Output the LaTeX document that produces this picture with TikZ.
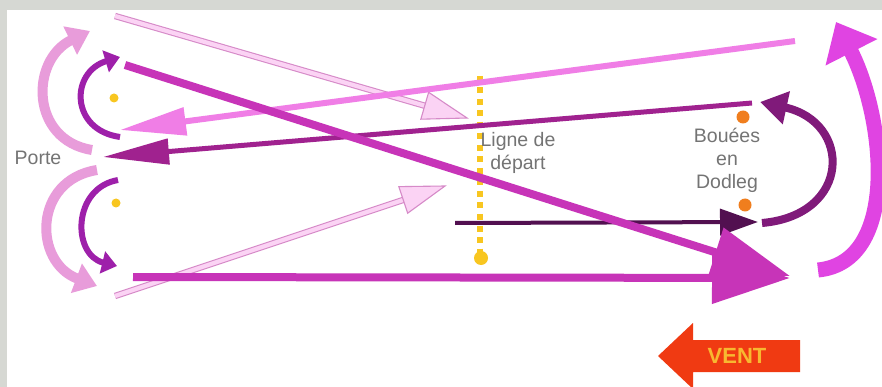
\documentclass[tikz,border=0pt]{standalone}
\usepackage{fontspec}
\setmainfont{Liberation Sans}
\usetikzlibrary{arrows.meta,calc}
\definecolor{bggray}{HTML}{D6D8D3}
\definecolor{magA}{HTML}{C734B8}
\definecolor{pinkA}{HTML}{F07EE6}
\definecolor{darkmag}{HTML}{A0228F}
\definecolor{darkpur}{HTML}{521050}
\definecolor{hout}{HTML}{D68AC8}
\definecolor{hfill}{HTML}{FBD3F4}
\definecolor{yel}{HTML}{F8C620}
\definecolor{orng}{HTML}{F07E1E}
\definecolor{outarc}{HTML}{E89CDA}
\definecolor{inarc}{HTML}{9E20AA}
\definecolor{rpur}{HTML}{801A7A}
\definecolor{rmag}{HTML}{E044E2}
\definecolor{txtgray}{HTML}{747474}
\definecolor{ventred}{HTML}{F03A12}
\definecolor{ventyel}{HTML}{F8B830}
\begin{document}
\begin{tikzpicture}[x=1pt,y=-1pt,
  hshaft/.style={draw=hout, line width=1.1pt, double=hfill, double distance=4.2pt},
  hhead/.style={draw=hout, fill=hfill, line width=1.1pt, line join=miter},
  magline/.style={draw=magA, line width=8pt, -{Triangle[length=78pt,width=50pt]}},
  pinkline/.style={draw=pinkA, line width=6pt, -{Triangle[length=66pt,width=27pt]}},
  dmagline/.style={draw=darkmag, line width=5pt, -{Triangle[length=66pt,width=25pt]}},
  dpurline/.style={draw=darkpur, line width=4pt, -{Triangle[length=38pt,width=26pt]}},
  outerarc/.style={draw=outarc, line width=10pt, -{Triangle[length=22pt,width=30pt]}},
  innerarc/.style={draw=inarc, line width=6pt, -{Triangle[length=15pt,width=22pt]}},
  rpurarc/.style={draw=rpur, line width=8pt, -{Triangle[length=27pt,width=32pt]}},
  rmagarc/.style={draw=rmag, line width=15pt, -{Triangle[length=34pt,width=56pt]}},
  lbl/.style={text=txtgray, font=\fontsize{19.5}{23}\selectfont, align=center, inner sep=0pt},
  ydot/.style={draw=yel, line width=5.5pt, dash pattern=on 6pt off 5.5pt}
]
\useasboundingbox (0,0) rectangle (882,387);
\fill[bggray] (0,0) rectangle (882,387);
\fill[white] (7,10) rectangle (882,387);

% starting line
\coordinate (ld1) at (480,76);
\coordinate (ld2) at (480,252);
\draw[ydot] (ld1) -- (ld2);
\fill[yel] (481,258) circle (7);

% buoys
\fill[yel] (114,98) circle (4.5);
\fill[yel] (116,203) circle (4.5);
\fill[orng] (743,117) circle (6.5);
\fill[orng] (745,205) circle (6.5);

% labels
\node[lbl] (porte) at (38,158) {Porte};
\node[lbl] (ligne) at (518,153) {Ligne de\\départ};
\node[lbl] (bouees) at (727,160) {Bouées\\en\\Dodleg};

% hollow arrows
\coordinate (hu1) at (115,16);
\coordinate (hu2) at (467,118);
\coordinate (hub) at ($(hu2)!44pt!(hu1)$);
\draw[hshaft] (hu1) -- (hub);
\filldraw[hhead] (hu2) -- ($(hub)!14pt!90:(hu2)$) -- ($(hub)!14pt!-90:(hu2)$) -- cycle;

\coordinate (hl1) at (115,296);
\coordinate (hl2) at (445,186);
\coordinate (hlb) at ($(hl2)!44pt!(hl1)$);
\draw[hshaft] (hl1) -- (hlb);
\filldraw[hhead] (hl2) -- ($(hlb)!14pt!90:(hl2)$) -- ($(hlb)!14pt!-90:(hl2)$) -- cycle;

% long straight legs
\coordinate (pk1) at (795,41);
\coordinate (pk2) at (120,130);
\draw[pinkline] (pk1) -- (pk2);

\coordinate (dm1) at (752,103);
\coordinate (dm2) at (103,157);
\draw[dmagline] (dm1) -- (dm2);

\coordinate (dp1) at (455,223);
\coordinate (dp2) at (758,222);
\draw[dpurline] (dp1) -- (dp2);

\coordinate (mh1) at (133,277);
\coordinate (mh2) at (790,278);
\draw[magline] (mh1) -- (mh2);

\coordinate (md1) at (125,65);
\coordinate (md2) at (790,276);
\draw[magline] (md1) -- (md2);

% left curved arrows
\coordinate (lou1) at (92,150);
\coordinate (lou2) at (90,31);
\draw[outerarc] (lou1) .. controls (30,140) and (30,60) .. (lou2);
\coordinate (lol1) at (97,170);
\coordinate (lol2) at (97,286);
\draw[outerarc] (lol1) .. controls (33,180) and (33,262) .. (lol2);
\coordinate (liu1) at (120,137);
\coordinate (liu2) at (120,57);
\draw[innerarc] (liu1) .. controls (70,130) and (70,72) .. (liu2);
\coordinate (lil1) at (118,180);
\coordinate (lil2) at (117,266);
\draw[innerarc] (lil1) .. controls (72,188) and (72,255) .. (lil2);

% right curved arrows
\coordinate (rp1) at (762,223);
\coordinate (rp2) at (760,102);
\draw[rpurarc] (rp1) .. controls (852,215) and (852,122) .. (rp2);
\coordinate (rm1) at (818,270);
\coordinate (rm2) at (836,22);
\draw[rmagarc] (rm1) .. controls (900,262) and (885,118) .. (rm2);

% wind arrow
\fill[ventred] (658,356) -- (693,323) -- (693,340) -- (800,340) -- (800,372) -- (693,372) -- (693,389) -- cycle;
\node[text=ventyel, font=\fontsize{22}{24}\selectfont\bfseries, inner sep=0pt] (vent) at (737,356) {VENT};
\end{tikzpicture}
\end{document}
